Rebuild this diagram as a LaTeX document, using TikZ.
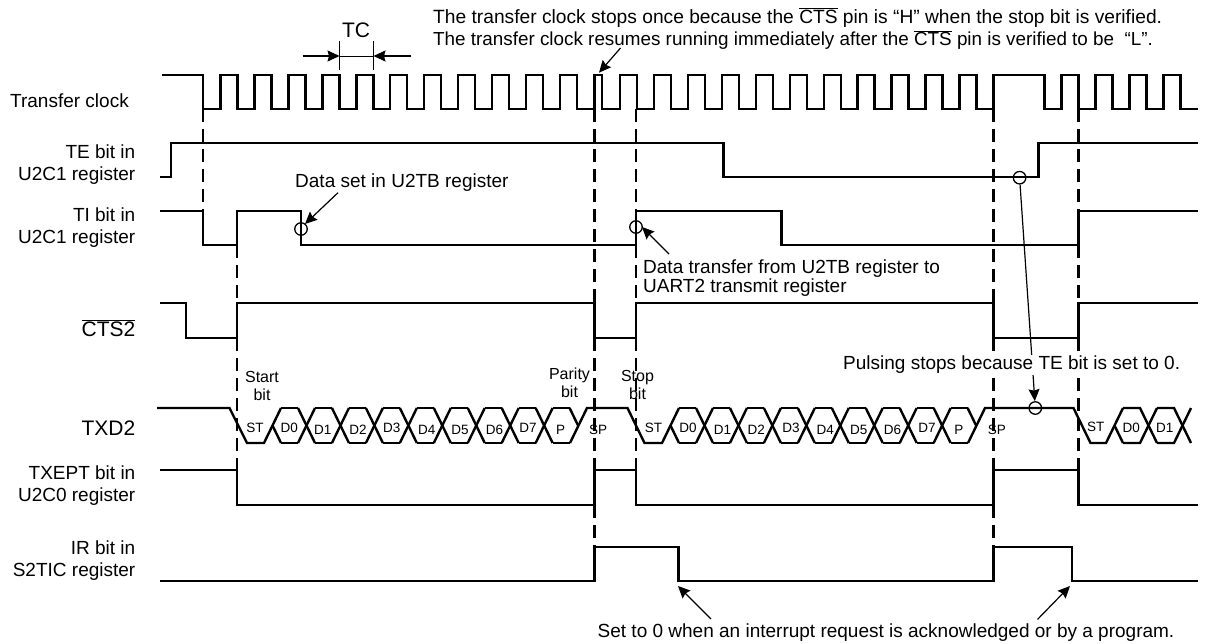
\documentclass[tikz,border=0pt]{standalone}
\usepackage{fontspec}
\setmainfont{Liberation Sans}
\usetikzlibrary{arrows.meta, positioning}
\newcommand{\ovbar}[1]{$\overline{\hbox{#1}}$}
\tikzset{
  wave/.style={line width=2.4pt, line join=miter},
  guide/.style={line width=2.4pt, dash pattern=on 13pt off 7pt},
  thinline/.style={line width=1pt},
  fatarrow/.style={-{Stealth[length=12pt, width=11pt, inset=1.5pt]}, line width=1.2pt},
  ringmark/.style={circle, draw, line width=1.3pt, minimum size=12.5pt, inner sep=0pt},
  sigtext/.style={font=\fontsize{19}{22}\selectfont, inner sep=0pt},
  bigtext/.style={font=\fontsize{21}{24}\selectfont, inner sep=0pt},
  bittext/.style={font=\fontsize{16}{18}\selectfont, inner sep=0pt},
  celltext/.style={font=\fontsize{13.5}{15}\selectfont, inner sep=0pt},
}
\begin{document}
\begin{tikzpicture}[x=1pt, y=-1pt]
  \useasboundingbox (0,0) rectangle (1205,643);

  % guides between the levels of the signals
  \foreach \x/\from/\to in {%
      203/109/211, 237/245/303, 237/338/470,
      594.5/109/303, 594.5/338/470, 594.5/505/547,
      636/109/211, 636/245/303, 636/338/470,
      993.5/109/303, 993.5/338/470, 993.5/505/547,
      1078.5/109/211, 1078.5/245/303, 1078.5/338/470} {
    \draw[guide] (\x,\from) -- (\x,\to);
  }

  % transfer clock
  \draw[wave] (162,75) -- (203,75) -- (203,109)
    foreach \k in {0,...,10} { -- ({220.5+33.95*\k},109) -- ({220.5+33.95*\k},75) -- ({237.5+33.95*\k},75) -- ({237.5+33.95*\k},109) }
    -- (594.5,109) -- (594.5,75) -- (602,75) -- (602,109)
    foreach \k in {0,...,10} { -- ({620+33.95*\k},109) -- ({620+33.95*\k},75) -- ({637+33.95*\k},75) -- ({637+33.95*\k},109) }
    -- (993.5,109) -- (993.5,75) -- (1044.5,75) -- (1044.5,109)
    foreach \k in {0,...,3} { -- ({1061.5+34*\k},109) -- ({1061.5+34*\k},75) -- ({1078.5+34*\k},75) -- ({1078.5+34*\k},109) }
    -- (1198,109);

  \draw[wave] (160,177) -- (171,177) -- (171,143) -- (723.5,143) -- (723.5,177) -- (1038.5,177) -- (1038.5,143) -- (1198,143);
  \draw[wave] (160,211) -- (203,211) -- (203,245) -- (237,245) -- (237,211) -- (301,211) -- (301,245) -- (636,245) -- (636,211) -- (781.5,211) -- (781.5,245) -- (1078.5,245) -- (1078.5,211) -- (1198,211);
  \draw[wave] (160,303) -- (186,303) -- (186,338) -- (237,338) -- (237,303) -- (594.5,303) -- (594.5,338) -- (636,338) -- (636,303) -- (993.5,303) -- (993.5,338) -- (1078.5,338) -- (1078.5,303) -- (1198,303);
  \draw[wave] (160,470) -- (237,470) -- (237,505) -- (594.5,505) -- (594.5,470) -- (636,470) -- (636,505) -- (993.5,505) -- (993.5,470) -- (1078.5,470) -- (1078.5,505) -- (1198,505);
  \draw[wave] (160,581) -- (594.5,581) -- (594.5,547) -- (678.5,547) -- (678.5,581) -- (993.5,581) -- (993.5,547) -- (1072,547) -- (1072,581) -- (1198,581);

  % TXD2, the frames
  \draw[wave] (157,408) -- (229.5,408) -- (247,443) -- (264,443) -- (281,408);
  \draw[wave] (272.5,425.5) -- (281,443);
  \draw[wave] (570,443) -- (587,408) -- (627.5,408) -- (644.5,443) -- (662,443) -- (679,408);
  \draw[wave] (670.5,425.5) -- (679,443);
  \draw[wave] (968,443) -- (985,408) -- (1073.5,408) -- (1090.5,443) -- (1106,443) -- (1123,408);
  \draw[wave] (1114.5,425.5) -- (1123,443);
  \foreach \s in {272.5, 670.5} {
    \foreach \k in {0,...,8} {
      \draw[wave] ({\s+33.95*\k+8.5},408) -- ({\s+33.95*\k+25.5},408);
      \draw[wave] ({\s+33.95*\k+8.5},443) -- ({\s+33.95*\k+25.5},443);
      \ifnum\k<8
      \draw[wave] ({\s+33.95*\k+25.5},408) -- ({\s+33.95*\k+42.5},443);
      \draw[wave] ({\s+33.95*\k+25.5},443) -- ({\s+33.95*\k+42.5},408);
      \else
      \draw[wave] ({\s+33.95*\k+25.5},408) -- ({\s+33.95*\k+34},425.5);
      \fi
    }
  }
  \foreach \k in {0,1} {
    \draw[wave] ({1123+34*\k},408) -- ({1140+34*\k},408) -- ({1157+34*\k},443);
    \draw[wave] ({1123+34*\k},443) -- ({1140+34*\k},443) -- ({1157+34*\k},408);
  }

  \foreach \t/\x/\y [count=\i] in {%
      ST/255/428, D0/289.3/428, D1/322.7/430, D2/358/430, D3/391.7/428, D4/426.7/430,
      D5/460/430, D6/494.5/430, D7/528/428, P/560.7/430, SP/598/430,
      ST/653.6/428, D0/687.9/428, D1/722.6/430, D2/756.2/430, D3/790.9/428, D4/825.2/430,
      D5/858.8/430, D6/892.4/430, D7/927/428, P/958.8/430, SP/996.9/430,
      ST/1095.7/427, D0/1131.2/428, D1/1164.8/428} {
    \node[celltext] (cell\i) at (\x,\y) {\t};
  }

  % signal names
  \node[sigtext, anchor=west] (clklabel) at (10,101) {Transfer clock};
  \node[sigtext, anchor=east, align=right] (telabel) at (135.5,165) {TE bit in\\U2C1 register};
  \node[sigtext, anchor=east, align=right] (tilabel) at (135.5,227.5) {TI bit in\\U2C1 register};
  \node[bigtext, anchor=base east] (ctslabel) at (135.5,336.5) {\ovbar{CTS2}};
  \node[bigtext, anchor=base east] (txdlabel) at (135.5,435) {TXD2};
  \node[sigtext, anchor=east, align=right] (txeptlabel) at (135.5,486) {TXEPT bit in\\U2C0 register};
  \node[sigtext, anchor=east, align=right] (irlabel) at (135.5,561) {IR bit in\\S2TIC register};

  % TC
  \node[bigtext] (tclabel) at (356,30) {TC};
  \coordinate (tcl) at (339.5,56);
  \coordinate (tcr) at (373.5,56);
  \coordinate (tclfree) at (302.5,56);
  \coordinate (tcrfree) at (411,56);
  \draw[thinline] (339.5,41) -- (339.5,70);
  \draw[thinline] (373.5,41) -- (373.5,70);
  \draw[thinline] (tcl) -- (tcr);
  \draw[fatarrow] (tclfree) -- (tcl);
  \draw[fatarrow] (tcrfree) -- (tcr);

  \node[bittext, align=center] (startlabel) at (262,386) {Start\\bit};
  \node[bittext, align=center] (paritylabel) at (569.5,383) {Parity\\bit};
  \node[bittext, align=center] (stoplabel) at (637.5,384.5) {Stop\\bit};

  % notes and their arrows
  \node[sigtext, font=\fontsize{19.2}{22}\selectfont, anchor=base west] (stopnote) at (433,23) {The transfer clock stops once because the \ovbar{CTS} pin is “H” when the stop bit is verified.};
  \node[sigtext, font=\fontsize{18.85}{22}\selectfont, anchor=base west] (resumenote) at (433,45.5) {The transfer clock resumes running immediately after the \ovbar{CTS} pin is verified to be \ “L”.};
  \coordinate (resumefrom) at (620.5,48);
  \coordinate (resumeto) at (599,72.7);
  \draw[fatarrow] (resumefrom) -- (resumeto);

  \node[sigtext, anchor=west] (setnote) at (295,183) {Data set in U2TB register};
  \node[ringmark] (setring) at (301,229) {};
  \coordinate (setfrom) at (338,192.7);
  \coordinate (setto) at (305,224);
  \draw[fatarrow] (setfrom) -- (setto);

  \node[sigtext, font=\fontsize{19}{19.5}\selectfont, anchor=north west, align=left] (movenote) at (643,259.5) {Data transfer from U2TB register to\\UART2 transmit register};
  \node[ringmark] (movering) at (636,227) {};
  \coordinate (movefrom) at (669,254);
  \coordinate (moveto) at (642,227);
  \draw[fatarrow] (movefrom) -- (moveto);

  \node[ringmark] (tering) at (1019.6,177.7) {};
  \node[ringmark] (txdring) at (1035.3,408) {};
  \draw[fatarrow] (tering) -- (txdring);
  \node[sigtext, anchor=west, fill=white, inner ysep=1pt] (pulsenote) at (843,365) {Pulsing stops because TE bit is set to 0.};

  \node[sigtext, anchor=west] (clearnote) at (597.5,633) {Set to 0 when an interrupt request is acknowledged or by a program.};
  \coordinate (clearfrom) at (711,619);
  \coordinate (clearto) at (678,586);
  \coordinate (againfrom) at (1037.5,619.4);
  \coordinate (againto) at (1070,586);
  \draw[fatarrow] (clearfrom) -- (clearto);
  \draw[fatarrow] (againfrom) -- (againto);
\end{tikzpicture}
\end{document}
